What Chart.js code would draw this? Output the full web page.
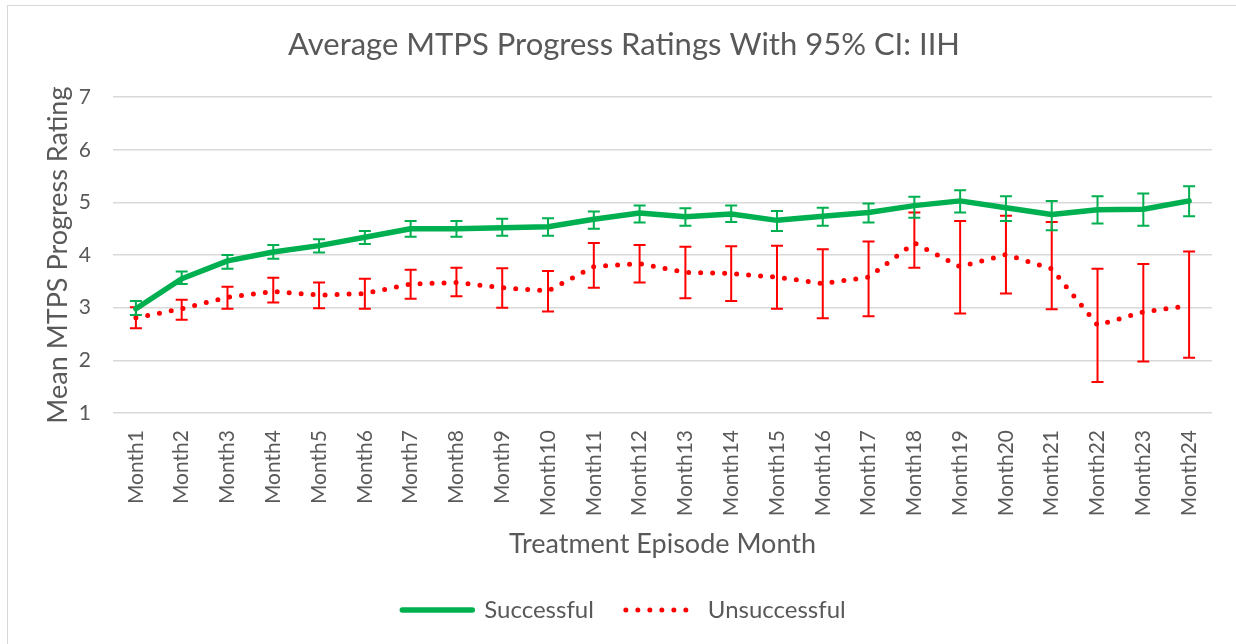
<!DOCTYPE html>
<html>
<head>
<meta charset="utf-8">
<script src="https://cdn.jsdelivr.net/npm/chart.js@4.4.0/dist/chart.umd.min.js"></script>
<style>
  body { margin: 0; background: #fff; overflow: hidden; }
  #frame { position: absolute; left: 7px; top: 5px; width: 1260px; height: 680px; border: 1px solid #d9d9d9; }
  #c { position: absolute; left: 0; top: 0; }
</style>
</head>
<body>
<div id="frame"></div>
<canvas id="c" width="1236" height="644"></canvas>
<script>
const months = ["Month1", "Month2", "Month3", "Month4", "Month5", "Month6", "Month7", "Month8",
  "Month9", "Month10", "Month11", "Month12", "Month13", "Month14", "Month15", "Month16",
  "Month17", "Month18", "Month19", "Month20", "Month21", "Month22", "Month23", "Month24"];

// Successful: mean with 95% CI bounds
const successMean = [2.98, 3.55, 3.89, 4.06, 4.18, 4.34, 4.50, 4.50, 4.52, 4.54, 4.68, 4.80,
  4.73, 4.78, 4.66, 4.74, 4.81, 4.94, 5.03, 4.90, 4.77, 4.86, 4.87, 5.03];
const successLow = [2.86, 3.45, 3.74, 3.93, 4.05, 4.21, 4.35, 4.35, 4.37, 4.37, 4.50, 4.62,
  4.56, 4.63, 4.46, 4.56, 4.62, 4.71, 4.81, 4.65, 4.47, 4.60, 4.56, 4.74];
const successHigh = [3.13, 3.69, 4.00, 4.19, 4.30, 4.46, 4.65, 4.65, 4.69, 4.70, 4.83, 4.94,
  4.89, 4.94, 4.84, 4.90, 4.98, 5.11, 5.23, 5.12, 5.03, 5.12, 5.17, 5.31];

// Unsuccessful: mean with 95% CI bounds
const unsuccessMean = [2.81, 2.98, 3.20, 3.31, 3.24, 3.27, 3.45, 3.48, 3.38, 3.32, 3.78, 3.84,
  3.67, 3.65, 3.58, 3.46, 3.58, 4.23, 3.78, 4.01, 3.74, 2.67, 2.92, 3.04];
const unsuccessLow = [2.61, 2.77, 2.98, 3.10, 2.99, 2.98, 3.17, 3.22, 3.00, 2.93, 3.38, 3.48,
  3.18, 3.13, 2.98, 2.80, 2.84, 3.76, 2.89, 3.27, 2.97, 1.59, 1.98, 2.05];
const unsuccessHigh = [3.01, 3.15, 3.40, 3.57, 3.48, 3.55, 3.72, 3.76, 3.75, 3.70, 4.23, 4.19,
  4.16, 4.17, 4.18, 4.11, 4.26, 4.81, 4.65, 4.75, 4.63, 3.74, 3.83, 4.07];

const GREEN = "#00B050";
const RED = "#FF0000";
const TEXT = "#595959";

// draws the CI whiskers for each dataset right after the line itself
const errorBars = {
  id: "errorBars",
  afterDatasetDraw(chart, args) {
    const ds = chart.data.datasets[args.index];
    if (!ds.ciLow) return;
    const { ctx, scales } = chart;
    const cap = 6;
    ctx.save();
    ctx.strokeStyle = ds.borderColor;
    ctx.lineWidth = 2;
    ctx.setLineDash([]);
    args.meta.data.forEach((pt, i) => {
      const x = pt.x;
      const yLo = scales.y.getPixelForValue(ds.ciLow[i]);
      const yHi = scales.y.getPixelForValue(ds.ciHigh[i]);
      ctx.beginPath();
      ctx.moveTo(x, yLo); ctx.lineTo(x, yHi);
      ctx.moveTo(x - cap, yLo); ctx.lineTo(x + cap, yLo);
      ctx.moveTo(x - cap, yHi); ctx.lineTo(x + cap, yHi);
      ctx.stroke();
    });
    ctx.restore();
  }
};

new Chart(document.getElementById("c"), {
  type: "line",
  data: {
    labels: months,
    datasets: [
      {
        label: "Successful",
        data: successMean,
        ciLow: successLow,
        ciHigh: successHigh,
        borderColor: GREEN,
        backgroundColor: GREEN,
        borderWidth: 5.5,
        borderCapStyle: "round",
        borderJoinStyle: "round",
        pointRadius: 0,
        tension: 0,
      },
      {
        label: "Unsuccessful",
        data: unsuccessMean,
        ciLow: unsuccessLow,
        ciHigh: unsuccessHigh,
        borderColor: RED,
        backgroundColor: RED,
        borderWidth: 5,
        borderDash: [0, 12],
        borderCapStyle: "round",
        borderJoinStyle: "round",
        pointRadius: 0,
        tension: 0,
      },
    ],
  },
  options: {
    responsive: false,
    animation: false,
    layout: { padding: { left: 36, right: 24, top: 16, bottom: 12 } },
    scales: {
      x: {
        offset: true,
        grid: { display: false, drawTicks: false },
        border: { display: false },
        ticks: {
          color: TEXT,
          font: { family: "Lato", size: 21 },
          minRotation: 90,
          maxRotation: 90,
          padding: 17,
          autoSkip: false,
        },
        title: {
          display: true,
          text: "Treatment Episode Month",
          color: TEXT,
          font: { family: "Lato", size: 27 },
          padding: { top: 0, bottom: 6 },
        },
        afterFit(scale) { scale.height = 153; },
      },
      y: {
        min: 1,
        max: 7,
        grid: { color: "#d9d9d9", lineWidth: 1.5, drawTicks: false },
        border: { display: false },
        ticks: {
          stepSize: 1,
          color: TEXT,
          font: { family: "Lato", size: 21 },
          padding: 22,
        },
        title: {
          display: true,
          text: "Mean MTPS Progress Rating",
          color: TEXT,
          font: { family: "Lato", size: 27 },
          padding: 6,
        },
        afterFit(scale) { scale.width = 77; },
      },
    },
    plugins: {
      title: {
        display: true,
        text: "Average MTPS Progress Ratings With 95% CI: IIH",
        color: TEXT,
        font: { family: "Lato", size: 31, weight: "normal" },
        padding: { top: 10, bottom: 34 },
      },
      legend: {
        position: "bottom",
        labels: {
          color: TEXT,
          font: { family: "Lato", size: 24 },
          usePointStyle: true,
          pointStyle: "line",
          pointStyleWidth: 70,
          padding: 32,
          generateLabels(chart) {
            const items = Chart.defaults.plugins.legend.labels.generateLabels(chart);
            items.forEach((it, i) => {
              const ds = chart.data.datasets[i];
              it.lineDash = ds.borderDash || [];
              it.lineCap = "round";
              it.lineWidth = ds.borderWidth;
              it.strokeStyle = ds.borderColor;
              it.pointStyle = "line";
            });
            return items;
          },
        },
      },
      tooltip: { enabled: false },
    },
  },
  plugins: [errorBars],
});
</script>
</body>
</html>
